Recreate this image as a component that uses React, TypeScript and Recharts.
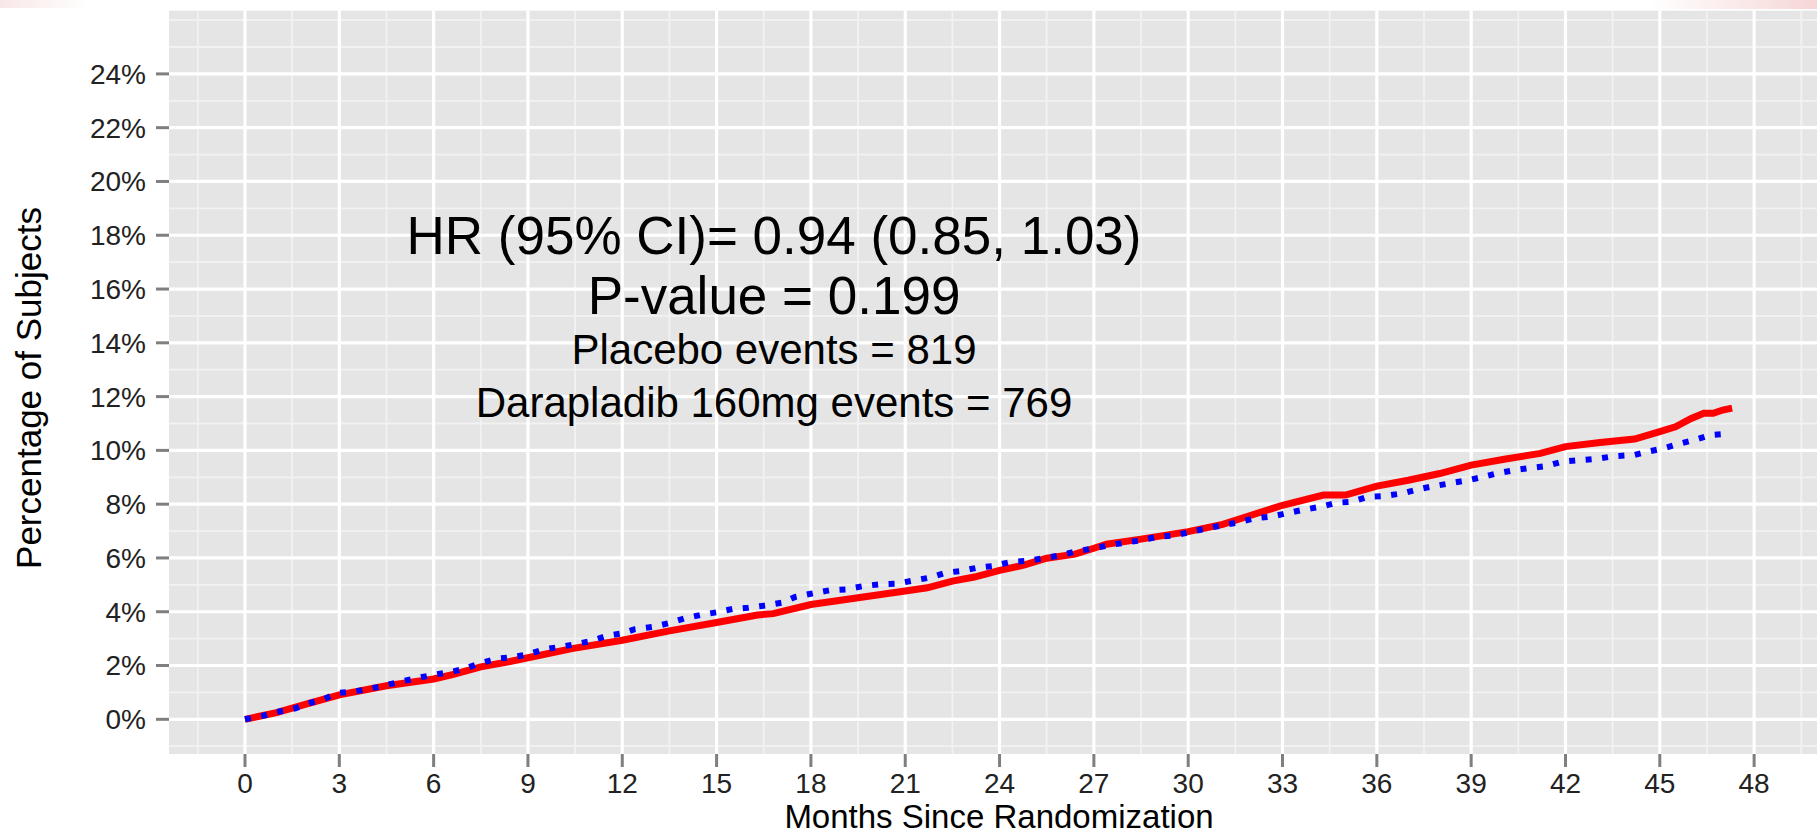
import { LineChart, Line, XAxis, YAxis, CartesianGrid } from 'recharts';

const W = 1817;
const H = 835;

// axis breaks
const monthTicks = [0, 3, 6, 9, 12, 15, 18, 21, 24, 27, 30, 33, 36, 39, 42, 45, 48];
const monthMinor = [-1.5, 1.5, 4.5, 7.5, 10.5, 13.5, 16.5, 19.5, 22.5, 25.5, 28.5, 31.5, 34.5, 37.5, 40.5, 43.5, 46.5, 49.5];
const pctTicks = [0, 2, 4, 6, 8, 10, 12, 14, 16, 18, 20, 22, 24];
const pctMinor = [-1, 1, 3, 5, 7, 9, 11, 13, 15, 17, 19, 21, 23, 25, 26];

// cumulative event curves (months, % of subjects)
const placeboMonths = [0, 1.0, 2.0, 3.0, 4.5, 6.0, 6.6, 7.5, 8.3, 9.0, 10.4, 12.0, 13.5, 15.0, 16.3, 16.8, 18.0, 19.5, 21.0, 21.7, 22.5, 23.2, 24.0, 24.8, 25.5, 26.4, 27.0, 27.4, 28.5, 30.0, 31.1, 31.9, 33.0, 34.3, 35.0, 36.0, 37.0, 38.0, 39.0, 40.1, 41.2, 42.0, 43.1, 44.2, 45.0, 45.5, 46.0, 46.4, 46.7, 47.0, 47.3];
const placeboPct = [0, 0.25, 0.58, 0.91, 1.25, 1.5, 1.66, 1.95, 2.12, 2.29, 2.63, 2.94, 3.29, 3.6, 3.88, 3.93, 4.27, 4.52, 4.77, 4.89, 5.14, 5.29, 5.54, 5.74, 5.99, 6.14, 6.36, 6.51, 6.7, 6.98, 7.25, 7.55, 7.96, 8.34, 8.34, 8.67, 8.89, 9.14, 9.45, 9.68, 9.89, 10.14, 10.29, 10.42, 10.7, 10.88, 11.19, 11.38, 11.38, 11.5, 11.57];

const darapladibMonths = [0, 0.6, 1.1, 1.6, 2.05, 2.5, 2.95, 3.5, 4.0, 4.5, 5.0, 5.5, 6.0, 6.5, 7.0, 7.4, 8.0, 8.5, 9.0, 9.5, 10.0, 10.5, 11.0, 11.5, 12.0, 12.4, 13.0, 13.5, 14.0, 14.5, 15.0, 15.5, 16.0, 16.6, 17.1, 17.5, 18.0, 18.6, 19.1, 19.7, 20.2, 20.7, 21.3, 21.8, 22.3, 22.8, 23.3, 23.8, 24.4, 24.9, 25.4, 26.0, 26.4, 27.0, 27.5, 28.0, 28.5, 29.0, 29.6, 30.1, 30.6, 31.1, 31.6, 32.1, 32.7, 33.2, 33.7, 34.2, 34.7, 35.2, 35.7, 36.2, 36.8, 37.3, 37.8, 38.3, 38.9, 39.4, 39.8, 40.4, 40.9, 41.4, 41.9, 42.5, 43.0, 43.6, 44.2, 44.6, 45.1, 45.6, 46.1, 46.6, 47.2];
const darapladibPct = [0, 0.14, 0.29, 0.41, 0.6, 0.75, 0.98, 1.04, 1.14, 1.28, 1.41, 1.54, 1.66, 1.75, 1.88, 2.06, 2.25, 2.31, 2.41, 2.6, 2.69, 2.79, 2.91, 3.1, 3.2, 3.35, 3.44, 3.58, 3.76, 3.88, 3.98, 4.1, 4.15, 4.24, 4.34, 4.55, 4.67, 4.8, 4.83, 4.96, 5.02, 5.04, 5.17, 5.27, 5.45, 5.52, 5.64, 5.7, 5.86, 5.89, 5.99, 6.11, 6.24, 6.36, 6.48, 6.57, 6.66, 6.78, 6.84, 6.98, 7.1, 7.22, 7.32, 7.47, 7.55, 7.68, 7.8, 7.9, 8.05, 8.09, 8.27, 8.3, 8.4, 8.55, 8.67, 8.77, 8.89, 9.02, 9.14, 9.27, 9.35, 9.42, 9.58, 9.64, 9.69, 9.79, 9.83, 9.95, 10.07, 10.24, 10.39, 10.57, 10.63];

const annotation = [
  { text: 'HR (95% CI)= 0.94 (0.85, 1.03)', size: 53, y: 254 },
  { text: 'P-value = 0.199', size: 53, y: 314 },
  { text: 'Placebo events = 819', size: 42, y: 364 },
  { text: 'Darapladib 160mg events = 769', size: 42, y: 417 },
];

const placebo = placeboMonths.map((m, i) => ({ month: m, pct: placeboPct[i] }));
const darapladib = darapladibMonths.map((m, i) => ({ month: m, pct: darapladibPct[i] }));

const FONT = '"Liberation Sans", Arial, sans-serif';
const tickStyle = { fontSize: 28, fill: '#222', fontFamily: FONT };

export default function App() {
  return (
    <div style={{ position: 'absolute', left: 0, top: 0, width: W, height: H, overflow: 'hidden', background: '#fff' }}>
      <LineChart width={W} height={H} margin={{ top: 10.7, right: 0, bottom: 0, left: 0 }}>
        <CartesianGrid fill="#e5e5e5" stroke="#f2f2f2" strokeWidth={1.8} horizontalValues={pctMinor} verticalValues={monthMinor} />
        <CartesianGrid stroke="#ffffff" strokeWidth={3.2} horizontalValues={pctTicks} verticalValues={monthTicks} />
        <XAxis
          type="number"
          dataKey="month"
          domain={[-2.417, 50]}
          allowDataOverflow
          ticks={monthTicks}
          interval={0}
          height={81}
          axisLine={false}
          tickSize={13}
          tickMargin={6}
          tickLine={{ stroke: '#7f7f7f', strokeWidth: 3 }}
          tick={tickStyle}
        />
        <YAxis
          type="number"
          domain={[-1.29, 26.35]}
          allowDataOverflow
          ticks={pctTicks}
          interval={0}
          width={169}
          axisLine={false}
          tickSize={13}
          tickMargin={10}
          tickLine={{ stroke: '#7f7f7f', strokeWidth: 3 }}
          tick={tickStyle}
          tickFormatter={(v: number) => `${v}%`}
        />
        <Line data={placebo} dataKey="pct" type="linear" stroke="#ff0000" strokeWidth={7} dot={false} activeDot={false} isAnimationActive={false} />
        <Line data={darapladib} dataKey="pct" type="linear" stroke="#0000ff" strokeWidth={6} strokeDasharray="6 10.5" dot={false} activeDot={false} isAnimationActive={false} />
      </LineChart>
      <svg width={W} height={H} style={{ position: 'absolute', left: 0, top: 0, pointerEvents: 'none' }}>
        <defs>
          <linearGradient id="edgeRight" x1="0" x2="1" y1="0" y2="0">
            <stop offset="0" stopColor="#f4cccc" stopOpacity={0} />
            <stop offset="1" stopColor="#f4cccc" stopOpacity={0.8} />
          </linearGradient>
          <linearGradient id="edgeLeft" x1="0" x2="1" y1="0" y2="0">
            <stop offset="0" stopColor="#f4d8d8" stopOpacity={0.6} />
            <stop offset="1" stopColor="#f4d8d8" stopOpacity={0} />
          </linearGradient>
        </defs>
        <rect x={1650} y={0} width={167} height={9} fill="url(#edgeRight)" />
        <rect x={0} y={0} width={90} height={8} fill="url(#edgeLeft)" />
        {annotation.map((a) => (
          <text key={a.text} x={774} y={a.y} textAnchor="middle" fontSize={a.size} fontFamily={FONT} fill="#000">
            {a.text}
          </text>
        ))}
        <text x={999} y={828} textAnchor="middle" fontSize={33} fontFamily={FONT} fill="#000">
          Months Since Randomization
        </text>
        <text transform="translate(41 388) rotate(-90)" textAnchor="middle" fontSize={35} fontFamily={FONT} fill="#000">
          Percentage of Subjects
        </text>
      </svg>
    </div>
  );
}
